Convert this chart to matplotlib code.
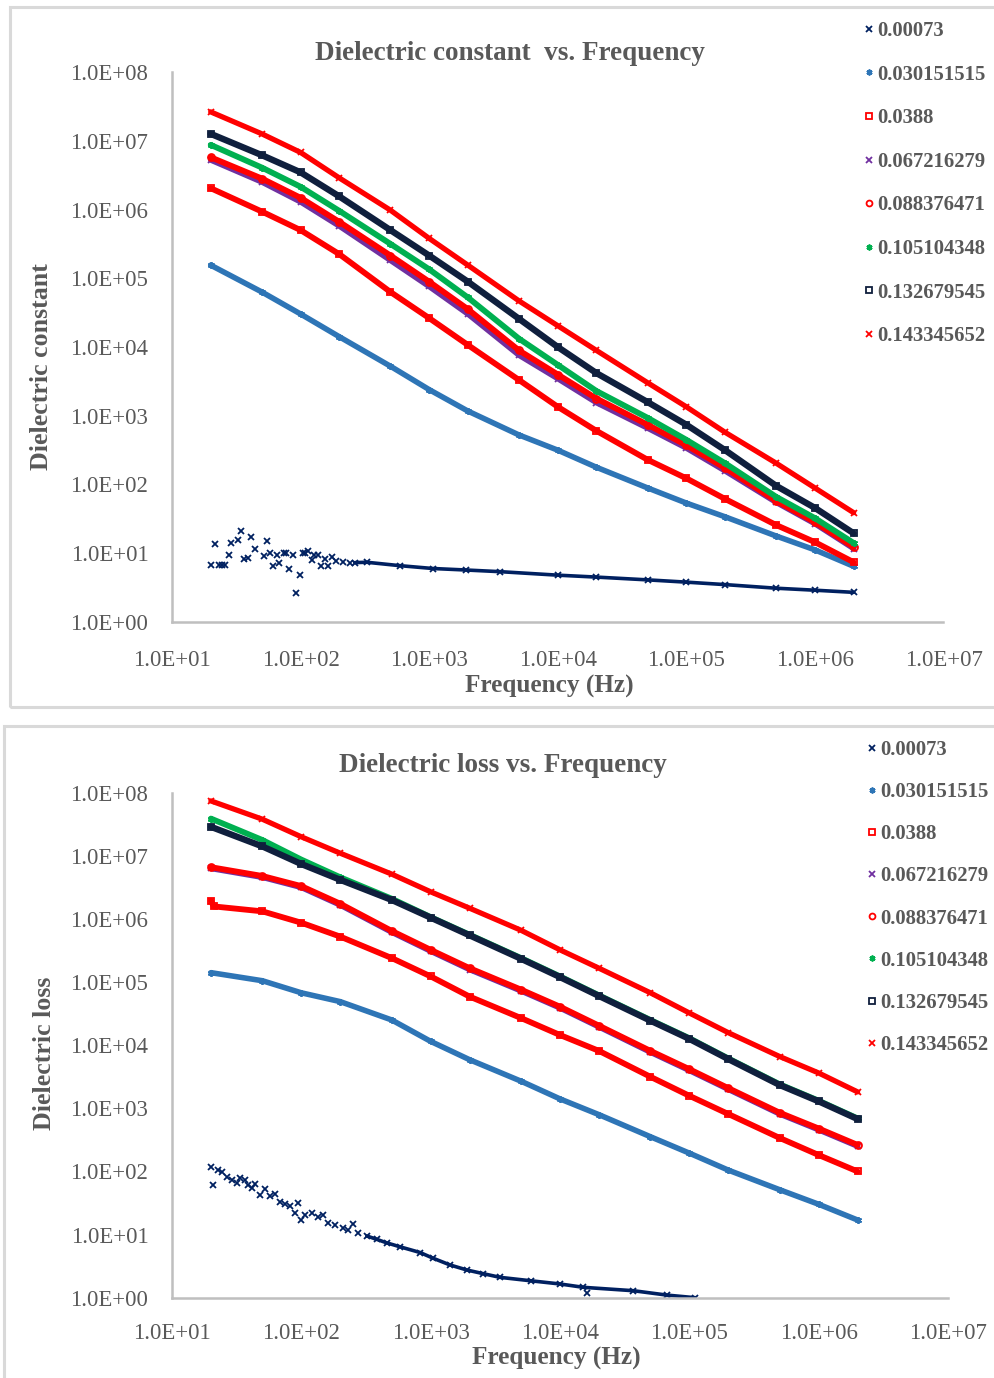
import numpy as np
import matplotlib.pyplot as plt
from matplotlib.ticker import FixedLocator, FuncFormatter, NullLocator
from matplotlib.patches import Rectangle

plt.rcParams['font.family'] = ['Liberation Serif', 'DejaVu Serif']

# ---------------- data ----------------
labels = ['0.00073', '0.030151515', '0.0388', '0.067216279',
          '0.088376471', '0.105104348', '0.132679545', '0.143345652']

freq = [20, 50, 100, 200, 500, 1e3, 2e3, 5e3, 1e4, 2e4, 5e4, 1e5, 2e5, 5e5, 1e6, 2e6]

# dielectric constant
eps_001_f = [20, 21.7, 23.2, 24.3, 25.8, 27.6, 28.9, 32.7, 34.5, 36.0, 38.7, 40.8, 43.9,
             51.9, 54.7, 57.7, 61.2, 65.1, 68.2, 74.2, 76.9, 81.5, 87.1, 91.4, 98.2,
             104, 109, 115, 122, 128, 136, 145, 154, 164, 174, 190, 214, 242, 264,
             326, 591, 1067, 1950, 3540, 1e4, 2e4, 5e4, 1e5, 2e5, 5e5, 1e6, 2e6]
eps_001 = [6.7, 13.5, 6.7, 6.7, 6.7, 9.4, 14.0, 15.6, 21.3, 8.2, 8.6, 17.4, 11.6,
           9.1, 14.9, 10.2, 6.6, 9.4, 7.3, 10.2, 10.0, 6.0, 9.4, 2.6, 4.9,
           10.2, 10.2, 10.8, 8.0, 9.4, 9.4, 6.5, 8.2, 6.5, 8.9, 7.7, 7.5, 7.1, 7.3,
           7.4, 6.6, 6.0, 5.7, 5.4, 4.8, 4.5, 4.1, 3.8, 3.5, 3.1, 2.9, 2.7]
eps_030 = [1.55e5, 6.31e4, 3.02e4, 1.41e4, 5.25e3, 2.40e3, 1.17e3, 525, 316, 178, 89.1, 53.7, 33.9, 17.8, 11.2, 6.46]
eps_039 = [2.04e6, 9.33e5, 5.01e5, 2.24e5, 6.31e4, 2.63e4, 1.07e4, 3.31e3, 1.35e3, 603, 229, 123, 61.7, 25.7, 14.5, 7.41]
eps_067 = [5.25e6, 2.51e6, 1.29e6, 5.75e5, 1.82e5, 7.59e4, 3.02e4, 7.59e3, 3.47e3, 1.55e3, 661, 339, 158, 55.0, 26.9, 11.7]
eps_088 = [5.75e6, 2.82e6, 1.48e6, 6.61e5, 2.14e5, 8.91e4, 3.55e4, 8.91e3, 3.98e3, 1.78e3, 741, 372, 174, 57.5, 28.2, 12.3]
eps_105 = [8.71e6, 4.07e6, 2.14e6, 9.55e5, 3.16e5, 1.35e5, 5.25e4, 1.32e4, 5.50e3, 2.29e3, 933, 447, 204, 66.1, 32.4, 14.1]
eps_133 = [1.26e7, 6.17e6, 3.47e6, 1.55e6, 5.01e5, 2.14e5, 8.91e4, 2.57e4, 1.00e4, 4.17e3, 1.58e3, 741, 316, 95.5, 45.7, 19.5]
eps_143 = [2.63e7, 1.26e7, 6.76e6, 2.88e6, 9.77e5, 3.80e5, 1.55e5, 4.68e4, 2.04e4, 8.91e3, 3.02e3, 1.35e3, 575, 204, 89.1, 38.9]

# dielectric loss
loss_001_f = [20, 20.8, 22.8, 24.2, 26.5, 28.9, 31.6, 33.6, 36.7, 38.9, 41.3, 43.8, 47.9,
              52.4, 57.3, 62.6, 68.4, 74.8, 81.8, 89.4, 93.8, 99.5, 107, 120, 135, 148,
              162, 182, 211, 231, 253, 276, 321, 383, 457, 580, 828, 1050, 1413, 1901,
              2558, 3443, 6000, 1e4, 15170, 36980, 66990, 110900]
loss_001 = [116, 62, 105, 99, 83, 73, 65, 80, 73, 61, 54, 63, 42,
            52, 41, 44, 33, 31, 28, 22, 32, 17, 20.5, 22, 19, 20.5,
            15.5, 14.2, 12.6, 11.8, 14.7, 10.7, 9.5, 8.4, 7.4, 6.4, 5.2, 4.2, 3.3, 2.75,
            2.4, 2.1, 1.85, 1.65, 1.46, 1.29, 1.1, 1.0]
# stray points of the 0.00073 loss series that sit off the main trace
loss_001_stray_f = [16110]
loss_001_stray = [1.2]
loss_030 = [1.41e5, 1.05e5, 6.76e4, 4.90e4, 2.51e4, 1.15e4, 5.89e3, 2.69e3, 1.41e3, 794, 355, 195, 105, 51.3, 30.2, 17.0]
loss_039_f = [20, 21, 50, 100, 200, 500, 1e3, 2e3, 5e3, 1e4, 2e4, 5e4, 1e5, 2e5, 5e5, 1e6, 2e6]
loss_039 = [1.95e6, 1.58e6, 1.32e6, 8.71e5, 5.25e5, 2.40e5, 1.23e5, 5.89e4, 2.69e4, 1.45e4, 8.13e3, 3.16e3, 1.58e3, 813, 339, 182, 100]
loss_067 = [6.31e6, 4.57e6, 3.16e6, 1.66e6, 6.17e5, 3.09e5, 1.58e5, 7.24e4, 3.89e4, 1.95e4, 7.76e3, 3.98e3, 2.00e3, 813, 457, 251]
loss_088 = [6.61e6, 4.79e6, 3.31e6, 1.74e6, 6.46e5, 3.24e5, 1.66e5, 7.59e4, 4.07e4, 2.04e4, 8.13e3, 4.17e3, 2.09e3, 851, 479, 263]
loss_105 = [3.89e7, 1.78e7, 8.71e6, 4.57e6, 2.09e6, 1.07e6, 5.62e5, 2.40e5, 1.23e5, 6.17e4, 2.51e4, 1.29e4, 6.17e3, 2.40e3, 1.32e3, 692]
loss_133 = [2.88e7, 1.41e7, 7.41e6, 4.17e6, 2.00e6, 1.05e6, 5.50e5, 2.34e5, 1.20e5, 6.03e4, 2.45e4, 1.26e4, 6.03e3, 2.34e3, 1.29e3, 676]
loss_143 = [7.41e7, 3.80e7, 2.00e7, 1.10e7, 5.13e6, 2.69e6, 1.48e6, 6.61e5, 3.24e5, 1.66e5, 6.76e4, 3.24e4, 1.58e4, 6.61e3, 3.63e3, 1.82e3]

x_ticks = [1e1, 1e2, 1e3, 1e4, 1e5, 1e6, 1e7]
y_ticks = [1e0, 1e1, 1e2, 1e3, 1e4, 1e5, 1e6, 1e7, 1e8]

# ---------------- styles ----------------
colors = ['#002060', '#2E75B6', '#FF0000', '#7030A0', '#FF0000', '#00B050', '#0F1F3D', '#FF0000']
markers = ['x', (6, 2, 0), 's', 'x', 'o', (6, 2, 0), 's', 'x']
hollow = [False, False, True, False, True, False, True, False]
widths = [2.6, 4.0, 4.2, 4.0, 4.2, 4.2, 4.6, 3.8]
TXT = '#595959'
W, H = 995, 1378


def fx(px):
    return px / W


def fy(py):
    return 1 - py / H


def draw_panel(ax, series, noisy_cut, stray, title, ylabel, title_xy, ylab_xy, xlab_xy,
               leg_xy, leg_space, xpad):
    for i, (f, v) in enumerate(series):
        f = np.array(f)
        v = np.array(v)
        c = colors[i]
        if i == 0:
            keep = f >= noisy_cut
            ax.plot(f[keep], v[keep], '-', color=c, lw=widths[i], solid_capstyle='round', zorder=2 + i)
            if stray is not None:
                ax.plot(stray[0], stray[1], ls='none', marker='x', ms=5, mew=1.3, color=c, zorder=2)
        else:
            ax.plot(f, v, '-', color=c, lw=widths[i], solid_capstyle='round', zorder=2 + i)
        fc = 'none' if hollow[i] else c
        ax.plot(f, v, ls='none', marker=markers[i], ms=5, mew=1.3, color=c,
                mfc=fc, mec=c, zorder=2 + i, label=labels[i])

    ax.set_xscale('log')
    ax.set_yscale('log')
    ax.set_xlim(1e1, 1e7)
    ax.set_ylim(1e0, 1e8)
    ax.xaxis.set_major_locator(FixedLocator(x_ticks))
    ax.yaxis.set_major_locator(FixedLocator(y_ticks))
    ax.xaxis.set_minor_locator(NullLocator())
    ax.yaxis.set_minor_locator(NullLocator())
    fmt = FuncFormatter(lambda v, p: f'{v:.1E}')
    ax.xaxis.set_major_formatter(fmt)
    ax.yaxis.set_major_formatter(fmt)
    ax.tick_params(axis='both', length=0, labelsize=16.4, labelcolor=TXT)
    ax.tick_params(axis='x', pad=xpad)
    ax.tick_params(axis='y', pad=17)
    for s in ['top', 'right']:
        ax.spines[s].set_visible(False)
    for s in ['left', 'bottom']:
        ax.spines[s].set_color('#BFBFBF')
        ax.spines[s].set_linewidth(1.8)

    fig.text(fx(title_xy[0]), fy(title_xy[1]), title, ha='center', va='center',
             fontsize=19.5, fontweight='bold', color=TXT)
    fig.text(fx(ylab_xy[0]), fy(ylab_xy[1]), ylabel, ha='center', va='center', rotation=90,
             fontsize=18.6, fontweight='bold', color=TXT)
    fig.text(fx(xlab_xy[0]), fy(xlab_xy[1]), 'Frequency (Hz)', ha='center', va='center',
             fontsize=18.2, fontweight='bold', color=TXT)

    leg = ax.legend(loc='upper left', bbox_to_anchor=(fx(leg_xy[0]), fy(leg_xy[1])),
                    bbox_transform=fig.transFigure, frameon=False,
                    prop={'size': 14.9, 'weight': 'bold'}, handlelength=0.6,
                    handletextpad=0.1, labelspacing=leg_space, borderpad=0,
                    borderaxespad=0, markerscale=0.85)
    for t in leg.get_texts():
        t.set_color(TXT)


fig = plt.figure(figsize=(9.95, 13.78), dpi=100)

# panel frames
fig.add_artist(Rectangle((fx(10), fy(707)), fx(1005) - fx(10), fy(7) - fy(707),
                         transform=fig.transFigure, fill=False, ec='#D9D9D9', lw=2.2))
fig.add_artist(Rectangle((fx(4), fy(1395)), fx(1005) - fx(4), fy(726) - fy(1395),
                         transform=fig.transFigure, fill=False, ec='#D9D9D9', lw=2.2))

ax1 = fig.add_axes([fx(172), fy(622), fx(943.5) - fx(172), fy(72) - fy(622)])
ax2 = fig.add_axes([fx(172), fy(1297.7), fx(948) - fx(172), fy(792.7) - fy(1297.7)])

top_series = [(eps_001_f, eps_001), (freq, eps_030), (freq, eps_039), (freq, eps_067),
              (freq, eps_088), (freq, eps_105), (freq, eps_133), (freq, eps_143)]
bot_series = [(loss_001_f, loss_001), (freq, loss_030), (loss_039_f, loss_039), (freq, loss_067),
              (freq, loss_088), (freq, loss_105), (freq, loss_133), (freq, loss_143)]

draw_panel(ax1, top_series, 260, None, 'Dielectric constant  vs. Frequency', 'Dielectric constant',
           (510, 53), (42, 367), (549, 686), (863, 21), 1.14, 20)
draw_panel(ax2, bot_series, 300, (loss_001_stray_f, loss_001_stray),
           'Dielectric loss vs. Frequency', 'Dielectric loss',
           (503, 765), (45, 1053), (556, 1358), (866, 740), 1.07, 18.5)

fig.savefig('out.png', dpi=100)
